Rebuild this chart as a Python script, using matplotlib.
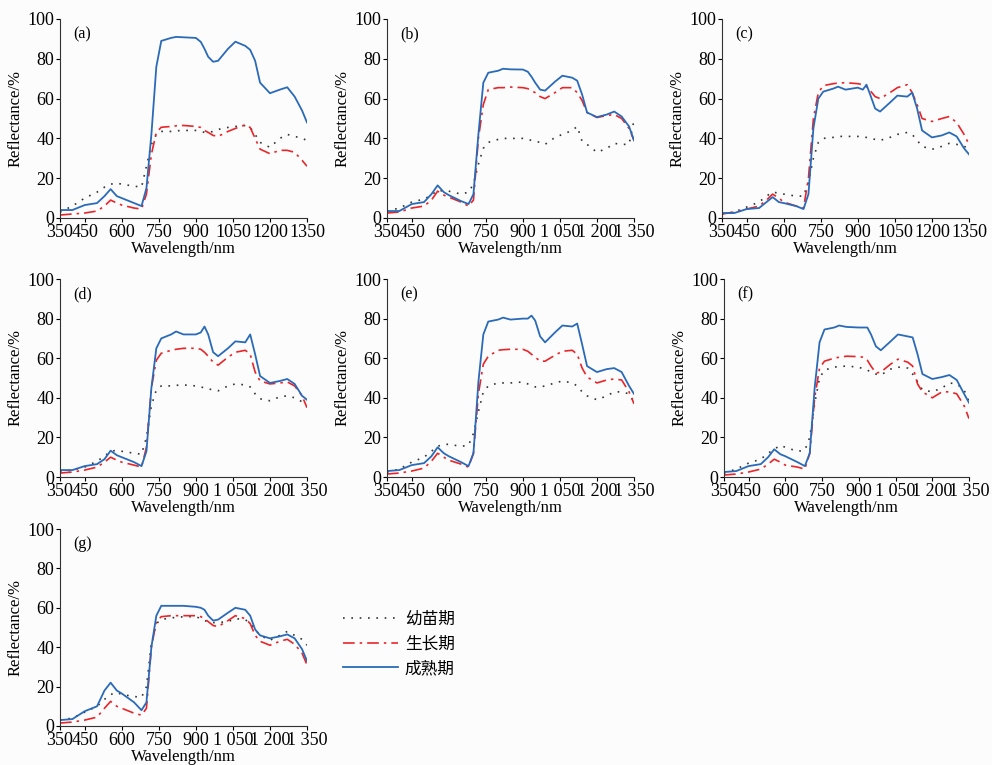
import matplotlib.pyplot as plt
from matplotlib.lines import Line2D

# === DATA ===
wavelength = [350, 400, 450, 500, 530, 555, 580, 600, 650, 680, 700, 720, 740, 760, 800, 820,
              850, 900, 920, 935, 950, 970, 990, 1030, 1060, 1100, 1120, 1140, 1160, 1200,
              1240, 1270, 1300, 1330, 1350]

tick_values = [350, 450, 600, 750, 900, 1050, 1200, 1350]
tick_labels_plain = ['350', '450', '600', '750', '900', '1050', '1200', '1350']
tick_labels_spaced = ['350', '450', '600', '750', '900', '1 050', '1 200', '1 350']

panel_names = ['(a)', '(b)', '(c)', '(d)', '(e)', '(f)', '(g)']
stage_names = ['幼苗期', '生长期', '成熟期']

# seedling stage (dotted)
seedling = {
    '(a)': [3, 6, 10, 13, 15.5, 17, 17.5, 17, 16, 15.5, 26, 37, 42, 43.5, 43.5, 43.8, 44, 44, 43.5,
            43, 43, 43.5, 44.5, 45.5, 46, 46.5, 45.5, 42, 38, 35.5, 40, 42, 41, 40, 39],
    '(b)': [3.5, 5, 8, 9.5, 11.5, 14, 13.5, 13.5, 12, 13, 17, 27, 35, 38, 39.5, 40, 40, 40, 39.5,
            39, 38.5, 38, 37, 40.5, 42, 44, 46, 38.5, 37, 33, 35, 37.5, 37, 37, 49],
    '(c)': [2, 3, 5.5, 8, 11, 13, 12.5, 12, 11, 11, 18, 30, 38, 40, 40.5, 41, 41, 41, 40.5,
            40.5, 40, 39.5, 39, 40.5, 42, 43, 42, 39, 36, 34.5, 36, 37.5, 37, 36, 35],
    '(d)': [2.5, 3.5, 5, 8, 10.5, 13, 13.5, 13, 12, 11.5, 20, 36, 44, 46, 46, 46.3, 46.5, 46, 45.5,
            45, 44.5, 44, 43.5, 46, 47, 46.5, 45.5, 42, 39.5, 38.5, 40.5, 41, 40, 38, 36],
    '(e)': [2.5, 4, 7.5, 10, 13, 15.5, 16.5, 16.5, 15.5, 16, 22, 33, 43, 46, 47.5, 47.5, 47.5, 48,
            47, 46.5, 45.5, 45.5, 46, 47.5, 48.5, 47.5, 46, 43, 41, 39, 41, 43, 43, 42, 38],
    '(f)': [2, 4, 7, 9, 12, 14, 16, 15, 13, 13.5, 20, 37, 50, 54, 55.5, 55.8, 56, 55.5, 54.5,
            54, 53, 52, 51.5, 54.5, 55.5, 55, 52, 48, 44, 43, 45, 47.5, 47, 44, 38],
    '(g)': [3, 4, 7, 10, 13.5, 16, 17, 16, 15, 14.5, 20, 42, 52, 54, 55, 55, 55.5, 55.5, 54.5,
            53.5, 53, 52.5, 52.5, 53, 54.5, 54, 52, 49, 46, 43.5, 46, 48, 46, 44, 41],
}

# growth stage (dash-dot)
growth = {
    '(a)': [1.5, 2, 2.5, 3.5, 6, 9, 7.5, 6.5, 5, 4.5, 12, 32, 43, 45.6, 46, 46.3, 46.5, 46, 45.5,
            44, 43, 41.5, 41, 43.5, 45, 46.8, 45.5, 40, 34.6, 32.3, 34, 34, 33, 29, 26],
    '(b)': [2.5, 3, 5, 6, 9, 13.5, 11.5, 10.5, 8, 6, 9, 40, 57, 64.5, 65.5, 65.5, 65.8, 65.5, 65,
            64, 63, 61, 60, 63, 65.5, 65.5, 63, 59, 53, 50.5, 51.5, 52, 50, 45, 39],
    '(c)': [2, 3, 4.5, 6, 9, 12, 10, 8, 6, 5, 20, 50, 63, 66.5, 67.5, 67.8, 68, 67.5, 67,
            66, 64, 61, 60, 63, 65.5, 67, 63, 57, 50, 48.5, 50, 51, 48, 42, 37],
    '(d)': [2, 2.5, 3.5, 5, 7.5, 10, 8.5, 7.5, 6, 5, 15, 45, 59, 62.5, 64, 64.5, 65, 65, 64.5,
            63, 61, 58, 56.5, 60.5, 63, 64, 62, 53, 48.5, 47, 47.5, 48, 46, 41, 35],
    '(e)': [1.5, 2, 3, 4.5, 8, 12, 10, 8.5, 6.5, 5, 12, 42, 57, 61, 64, 64.3, 64.5, 64.5, 63.5,
            62, 60.5, 58.5, 58.5, 61.5, 63.5, 64, 62, 55, 50.5, 47.5, 49, 49.5, 49, 43, 37],
    '(f)': [1, 1.5, 2.5, 4, 6.5, 9, 7.5, 6, 5, 4, 12, 40, 55, 58.5, 60, 60.5, 61, 60.8, 60.5,
            59, 56, 52.5, 53, 57, 59.5, 58, 56, 47, 43, 40, 43, 43, 42, 36, 29.5],
    '(g)': [1.5, 2, 3, 4.5, 9, 12.5, 10, 9, 6.5, 5.5, 9, 40, 53, 55.5, 56, 56, 56, 56, 55.5,
            54.5, 53, 51, 50.5, 53.5, 56, 54.5, 52, 46, 43, 41, 43, 44, 41.5, 37, 31],
}

# maturity stage (solid)
mature = {
    '(a)': [4, 4, 6.5, 7.5, 11, 14.5, 11, 10, 7.5, 6, 15, 42, 76, 89, 90.5, 91, 90.8, 90.5, 88.5,
            85, 81, 78.5, 79, 85, 88.6, 86.5, 84.5, 79, 68, 62.7, 64.5, 65.7, 61, 54, 48],
    '(b)': [3.5, 3.5, 7, 8, 12, 16.4, 13, 11.5, 8.5, 7, 12, 42, 68, 73, 74, 75, 74.7, 74.6, 73.5,
            71, 68, 64.5, 64, 68.5, 71.5, 70.5, 69, 62, 53, 50.7, 52, 53.5, 51, 46, 39],
    '(c)': [2.5, 2.5, 4.5, 5, 8, 10.5, 8, 7.5, 6, 4.5, 12, 45, 60, 63.5, 65, 66, 64.5, 65.5, 64.5,
            67, 62, 55, 53.5, 58, 61.5, 61, 63, 55, 44, 40.5, 41.5, 43, 41, 35, 32],
    '(d)': [3.5, 3.5, 5.5, 6.5, 9, 13.3, 11, 10, 7.5, 5.5, 13, 45, 65, 70, 72, 73.5, 72, 72, 73,
            76, 72, 63, 61, 65, 68.5, 68, 72, 62, 51, 47.5, 48.5, 49.5, 47, 41, 39],
    '(e)': [3, 3.5, 6, 7, 10.5, 15, 12, 10.5, 7.5, 5.5, 12, 48, 72, 78.5, 79.5, 80.5, 79.5, 80, 80,
            81.5, 79, 71, 68, 73, 76.5, 76, 77.5, 67, 56, 53, 54.5, 55, 53, 46, 42],
    '(f)': [2.5, 3, 5.5, 6.5, 10, 14, 11.5, 10.5, 7.5, 5.5, 12, 45, 68, 74.5, 75.5, 76.5, 75.8, 75.5,
            75.5, 75.5, 72, 66, 64, 68.5, 72, 71, 70.5, 62, 52, 49.5, 50.5, 51.5, 49, 42, 37.5],
    '(g)': [3, 3.5, 7.5, 10, 18, 22, 18, 16.5, 12, 8, 12, 40, 56, 61, 61, 61, 61, 60.5, 60,
            59, 56, 53.5, 54, 57.5, 60, 59, 56, 49, 46, 44.5, 45.5, 46.5, 44.5, 39, 33],
}

# === STYLE ===
plt.rcParams['font.family'] = ['Liberation Serif', 'Noto Sans CJK SC']

seed_style = dict(color='#333333', linestyle=(0, (1, 4)), linewidth=1.2)
growth_style = dict(color='#e8262a', linestyle=(0, (7, 3, 1.5, 3)), linewidth=1.2)
mature_style = dict(color='#2a6ab8', linestyle='-', linewidth=1.3)

fig = plt.figure(figsize=(9.92, 7.65), dpi=100, facecolor='#fcfcfc')
W, H = 992.0, 765.0

# axes boxes in pixels: left, top, right, bottom
boxes = [(60, 19, 307, 218), (387, 19, 634, 218), (722, 19, 969, 218),
         (60, 279, 307, 477), (387, 279, 634, 477), (724, 279, 969, 477),
         (60, 529, 307, 726)]
plain_panels = ['(a)', '(c)']

for name, (l, t, r, b) in zip(panel_names, boxes):
    ax = fig.add_axes([l / W, 1 - b / H, (r - l) / W, (b - t) / H])
    ax.set_facecolor('#fcfcfc')
    ax.plot(wavelength, seedling[name], **seed_style)
    ax.plot(wavelength, growth[name], **growth_style)
    ax.plot(wavelength, mature[name], **mature_style)
    ax.set_xlim(350, 1350)
    ax.set_ylim(0, 100)
    ax.set_yticks([0, 20, 40, 60, 80, 100])
    ax.set_xticks(tick_values)
    ax.set_xticklabels(tick_labels_plain if name in plain_panels else tick_labels_spaced)
    ax.spines['top'].set_visible(False)
    ax.spines['right'].set_visible(False)
    for s in ('left', 'bottom'):
        ax.spines[s].set_linewidth(0.8)
        ax.spines[s].set_color('#333333')
    ax.tick_params(direction='out', length=3, width=0.8, pad=1, labelsize=13)
    ax.set_xlabel('Wavelength/nm', fontsize=12, labelpad=0)
    ax.set_ylabel('Reflectance/%', fontsize=12, labelpad=3)
    ax.text(0.055, 0.965, name, transform=ax.transAxes, ha='left', va='top', fontsize=11.5)

# legend
handles = [Line2D([], [], **seed_style), Line2D([], [], **growth_style),
           Line2D([], [], **mature_style)]
fig.legend(handles, stage_names, loc='upper left', bbox_to_anchor=(328 / W, 1 - 596 / H),
           frameon=False, handlelength=3.3, handletextpad=0.4,
           labelspacing=0.45, prop={'family': ['Noto Sans CJK SC'], 'size': 12})

fig.savefig('out.png', dpi=100, facecolor=fig.get_facecolor())
